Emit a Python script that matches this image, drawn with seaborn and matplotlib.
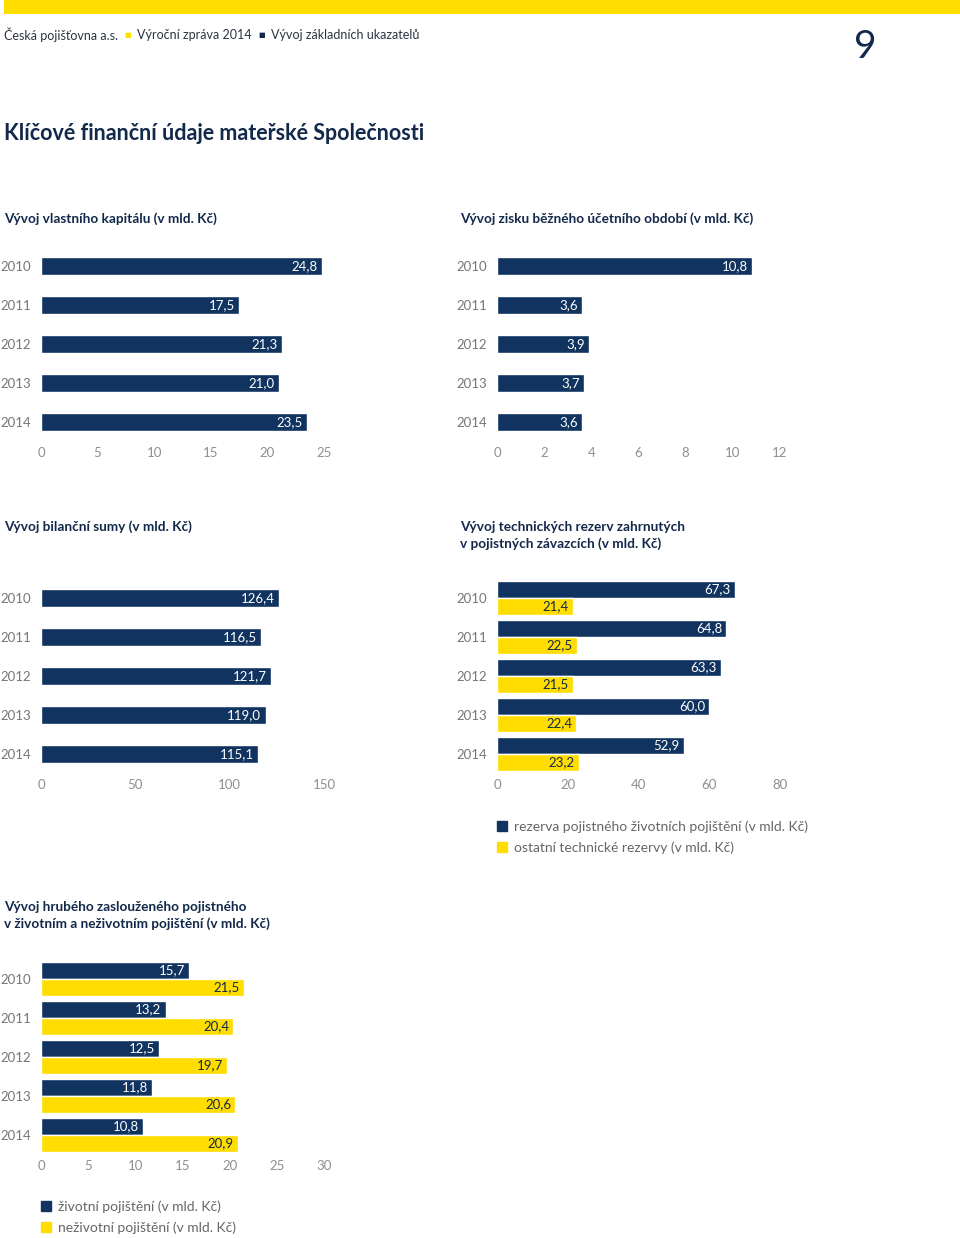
import matplotlib
matplotlib.use('Agg')
import matplotlib.pyplot as plt
import matplotlib.patches as mpatches
from matplotlib.text import Annotation
import seaborn as sns
import pandas as pd

# data
years = ['2010', '2011', '2012', '2013', '2014']
equity = [24.8, 17.5, 21.3, 21.0, 23.5]
profit = [10.8, 3.6, 3.9, 3.7, 3.6]
balance = [126.4, 116.5, 121.7, 119.0, 115.1]
reserves_life = [67.3, 64.8, 63.3, 60.0, 52.9]
reserves_other = [21.4, 22.5, 21.5, 22.4, 23.2]
premium_life = [15.7, 13.2, 12.5, 11.8, 10.8]
premium_nonlife = [21.5, 20.4, 19.7, 20.6, 20.9]

reserves_names = ['rezerva pojistného životních pojištění (v mld. Kč)',
                  'ostatní technické rezervy (v mld. Kč)']
premium_names = ['životní pojištění (v mld. Kč)', 'neživotní pojištění (v mld. Kč)']

NAVY = '#10335F'
YELLOW = '#FFDD00'
DARK = '#13294B'
GREY = '#777777'

sns.set_theme(style='white')
plt.rcParams['font.family'] = ['Lato', 'DejaVu Sans']

W, H = 960, 1238
fig = plt.figure(figsize=(W / 100, H / 100), dpi=100)


def px_axes(left, top, width, height):
    return fig.add_axes([left / W, 1 - (top + height) / H, width / W, height / H])


def fmt(v):
    return f'{v:.1f}'.replace('.', ',')


def style_axes(ax, xmax, step):
    ax.set_xlim(0, xmax)
    ax.set_ylim(4.5, -0.5)
    ax.set_xticks(range(0, xmax + 1, step))
    ax.set_xlabel('')
    ax.set_ylabel('')
    sns.despine(ax=ax, left=True, bottom=True)
    ax.tick_params(axis='x', length=0, pad=4, labelsize=9.5, labelcolor='#8f8f8f')
    ax.tick_params(axis='y', length=0, pad=7, labelsize=9.5, labelcolor=GREY)
    ax.grid(False)


def label_bars(ax, container, values, color):
    texts = ax.bar_label(container, labels=[fmt(v) for v in values],
                         padding=-3, color=color, fontsize=9.5)
    for t in texts:
        t.set_ha('right')
        t.set_va('center')


def single_chart(left, top, values, xmax, step):
    ax = px_axes(left, top, 283, 195)
    sns.barplot(x=values, y=years, orient='h', color=NAVY, width=0.44,
                saturation=1, ax=ax)
    style_axes(ax, xmax, step)
    label_bars(ax, ax.containers[0], values, 'white')
    return ax


def grouped_chart(left, top, a, b, names, xmax, step):
    df = pd.DataFrame({
        'year': years * 2,
        'value': a + b,
        'series': [names[0]] * 5 + [names[1]] * 5,
    })
    ax = px_axes(left, top, 283, 195)
    sns.barplot(data=df, x='value', y='year', hue='series', orient='h',
                palette=[NAVY, YELLOW], width=0.87, saturation=1,
                legend=False, ax=ax)
    style_axes(ax, xmax, step)
    label_bars(ax, ax.containers[0], a, 'white')
    label_bars(ax, ax.containers[1], b, DARK)
    return ax


def legend_px(ax, names, x, y):
    handles = [mpatches.Patch(color=NAVY, label=names[0]),
               mpatches.Patch(color=YELLOW, label=names[1])]
    leg = ax.legend(handles=handles, loc='upper left',
                    bbox_to_anchor=(x / W, 1 - y / H), bbox_transform=fig.transFigure,
                    frameon=False, borderaxespad=0, borderpad=0,
                    handlelength=0.75, handleheight=0.75, handletextpad=0.5,
                    labelspacing=0.65, fontsize=10)
    for t in leg.get_texts():
        t.set_color('#666666')


# page header
fig.add_artist(mpatches.Rectangle((4 / W, 1 - 14 / H), 956 / W, 14 / H,
                                  transform=fig.transFigure, color=YELLOW, lw=0))
prev = fig.text(4 / W, 1 - 35 / H, 'Česká pojišťovna a.s.', fontsize=9,
                color='#2b3440', va='center')
header_parts = [('■', YELLOW, 5), ('Výroční zpráva 2014', '#2b3440', 9),
                ('■', DARK, 5), ('Vývoj základních ukazatelů', '#2b3440', 9)]
for txt, col, fs in header_parts:
    ann = Annotation(txt, xy=(1, 0.5), xycoords=prev, xytext=(4.5, 0),
                     textcoords='offset points', fontsize=fs, color=col,
                     va='center', ha='left', annotation_clip=False,
                     family=['DejaVu Sans'] if fs < 9 else ['Lato'])
    fig.add_artist(ann)
    prev = ann
fig.text(865 / W, 1 - 47 / H, '9', fontsize=28, color=DARK, ha='center', va='center')
fig.text(4 / W, 1 - 133 / H, 'Klíčové finanční údaje mateřské Společnosti',
         fontsize=15.5, fontweight='bold', color=DARK, va='center')

title_kw = dict(fontsize=9.8, fontweight='bold', color=DARK, va='center',
                linespacing=1.4)

# chart 1
fig.text(4 / W, 1 - 219 / H, 'Vývoj vlastního kapitálu (v mld. Kč)', **title_kw)
single_chart(41, 246.5, equity, 25, 5)

# chart 2
fig.text(460 / W, 1 - 219 / H, 'Vývoj zisku běžného účetního období (v mld. Kč)', **title_kw)
single_chart(497, 246.5, profit, 12, 2)

# chart 3
fig.text(4 / W, 1 - 527 / H, 'Vývoj bilanční sumy (v mld. Kč)', **title_kw)
single_chart(41, 578.5, balance, 150, 50)

# chart 4
fig.text(460 / W, 1 - 535.5 / H,
         'Vývoj technických rezerv zahrnutých\nv pojistných závazcích (v mld. Kč)', **title_kw)
ax4 = grouped_chart(497, 578.5, reserves_life, reserves_other, reserves_names, 80, 20)
legend_px(ax4, reserves_names, 497, 820)

# chart 5
fig.text(4 / W, 1 - 915.5 / H,
         'Vývoj hrubého zaslouženého pojistného\nv životním a neživotním pojištění (v mld. Kč)',
         **title_kw)
ax5 = grouped_chart(41, 959.5, premium_life, premium_nonlife, premium_names, 30, 5)
legend_px(ax5, premium_names, 41, 1200)

fig.savefig('out.png', dpi=100)
